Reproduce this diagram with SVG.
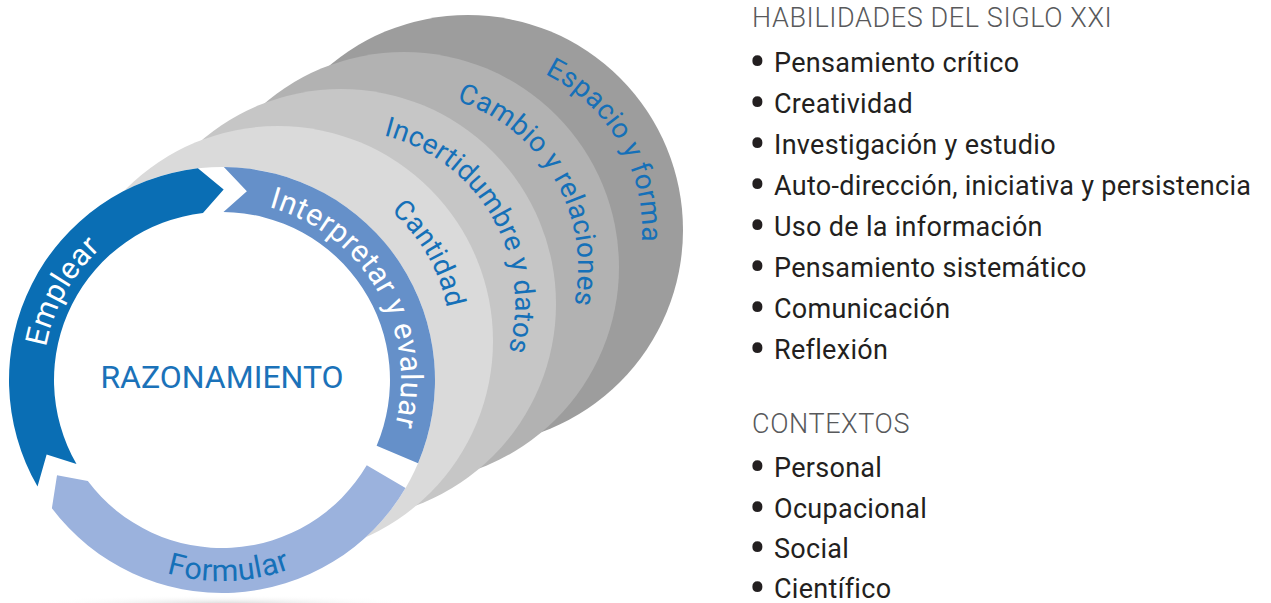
<svg xmlns="http://www.w3.org/2000/svg" width="1271" height="603" viewBox="0 0 1271 603">
<defs>
<style>
.lbl{font-family:Roboto,"Liberation Sans",sans-serif;font-size:28px;fill:#1570b8;letter-spacing:0.3px}
.ring{font-family:Roboto,"Liberation Sans",sans-serif;font-size:30.5px;letter-spacing:0.5px}
.head{font-family:Roboto,"Liberation Sans",sans-serif;font-size:27px;font-weight:300;fill:#58595b;letter-spacing:0.6px}
.item{font-family:Roboto,"Liberation Sans",sans-serif;font-size:27px;fill:#231f20;letter-spacing:0.3px}
.bul{font-size:50px}
</style>
<radialGradient id="shadow" cx="0.5" cy="0.5" r="0.5">
<stop offset="0" stop-color="#d9d9d9"/>
<stop offset="1" stop-color="#ffffff" stop-opacity="0"/>
</radialGradient>
<path id="p4" d="M 394.46,72.30 A 174 174 0 0 1 567.80,372.53"/>
<path id="p3" d="M 330.46,109.30 A 174 174 0 0 1 503.80,409.53"/>
<path id="p2" d="M 267.46,146.30 A 174 174 0 0 1 440.80,446.53"/>
<path id="p1" d="M 205.31,185.11 A 172 172 0 0 1 376.65,481.89"/>
<path id="pE" d="M 121.90,528.40 A 179 179 0 0 1 294.81,216.47"/>
<path id="pI" d="M 146.35,217.77 A 179 179 0 0 1 324.67,526.63"/>
<path id="pF" d="M 22.50,404.50 A 201 201 0 0 0 422.72,390.52"/>
</defs>
<rect width="1271" height="603" fill="#ffffff"/>
<ellipse cx="225" cy="604" rx="200" ry="9" fill="url(#shadow)"/>
<g id="espacio">
<circle cx="468" cy="230" r="215" fill="#9d9d9d"/>
</g>
<g id="cambio">
<circle cx="404" cy="267" r="215" fill="#b2b2b2"/>
</g>
<g id="incertidumbre">
<circle cx="341" cy="304" r="215" fill="#c6c6c6"/>
</g>
<g id="cantidad">
<circle cx="278" cy="341" r="215" fill="#dadada"/>
</g>
<g id="layer-labels">
<text class="lbl"><textPath href="#p4" startOffset="50%" text-anchor="middle">Espacio y forma</textPath></text>
<text class="lbl"><textPath href="#p3" startOffset="50%" text-anchor="middle">Cambio y relaciones</textPath></text>
<text class="lbl"><textPath href="#p2" startOffset="50%" text-anchor="middle">Incertidumbre y datos</textPath></text>
<text class="lbl"><textPath href="#p1" startOffset="50%" text-anchor="middle">Cantidad</textPath></text>
</g>
<g id="razonamiento">
<circle cx="222" cy="380" r="213" fill="#ffffff"/>
<text x="222" y="388" text-anchor="middle" font-family="Roboto,'Liberation Sans',sans-serif" font-size="32" fill="#1b72b9">RAZONAMIENTO</text>
</g>
<g id="emplear">
<path d="M 37.54,486.50 L 46.64,454.43 L 76.51,464.00 A 168 168 0 0 1 202.98,213.08 L 223.66,189.51 L 197.89,168.37 A 213 213 0 0 0 37.54,486.50 Z" fill="#0a6eb4"/>
<text class="ring" fill="#ffffff"><textPath href="#pE" startOffset="50%" text-anchor="middle">Emplear</textPath></text>
</g>
<g id="interpretar">
<path d="M 223.86,167.01 L 246.87,191.13 L 223.47,212.01 A 168 168 0 0 1 376.64,445.64 L 418.07,463.23 A 213 213 0 0 0 223.86,167.01 Z" fill="#6590c9"/>
<text class="ring" fill="#ffffff"><textPath href="#pI" startOffset="50%" text-anchor="middle">Interpretar y evaluar</textPath></text>
</g>
<g id="formular">
<path d="M 405.53,488.11 L 366.75,465.27 A 168 168 0 0 1 87.83,481.11 L 57.02,475.25 L 51.89,508.19 A 213 213 0 0 0 405.53,488.11 Z" fill="#9bb2dd"/>
<text class="ring" fill="#1570b8"><textPath href="#pF" startOffset="50%" text-anchor="middle">Formular</textPath></text>
</g>
<g id="habilidades">
<text class="head" x="752" y="27">HABILIDADES DEL SIGLO XXI</text>
<text class="item" x="749" y="72"><tspan class="bul" dy="7">•</tspan><tspan x="774" dy="-7">Pensamiento crítico</tspan></text>
<text class="item" x="749" y="113"><tspan class="bul" dy="7">•</tspan><tspan x="774" dy="-7">Creatividad</tspan></text>
<text class="item" x="749" y="154"><tspan class="bul" dy="7">•</tspan><tspan x="774" dy="-7">Investigación y estudio</tspan></text>
<text class="item" x="749" y="195"><tspan class="bul" dy="7">•</tspan><tspan x="774" dy="-7">Auto-dirección, iniciativa y persistencia</tspan></text>
<text class="item" x="749" y="236"><tspan class="bul" dy="7">•</tspan><tspan x="774" dy="-7">Uso de la información</tspan></text>
<text class="item" x="749" y="277"><tspan class="bul" dy="7">•</tspan><tspan x="774" dy="-7">Pensamiento sistemático</tspan></text>
<text class="item" x="749" y="318"><tspan class="bul" dy="7">•</tspan><tspan x="774" dy="-7">Comunicación</tspan></text>
<text class="item" x="749" y="359"><tspan class="bul" dy="7">•</tspan><tspan x="774" dy="-7">Reflexión</tspan></text>
</g>
<g id="contextos">
<text class="head" x="752" y="433">CONTEXTOS</text>
<text class="item" x="749" y="477"><tspan class="bul" dy="7">•</tspan><tspan x="774" dy="-7">Personal</tspan></text>
<text class="item" x="749" y="518"><tspan class="bul" dy="7">•</tspan><tspan x="774" dy="-7">Ocupacional</tspan></text>
<text class="item" x="749" y="558"><tspan class="bul" dy="7">•</tspan><tspan x="774" dy="-7">Social</tspan></text>
<text class="item" x="749" y="598"><tspan class="bul" dy="7">•</tspan><tspan x="774" dy="-7">Científico</tspan></text>
</g>
</svg>
